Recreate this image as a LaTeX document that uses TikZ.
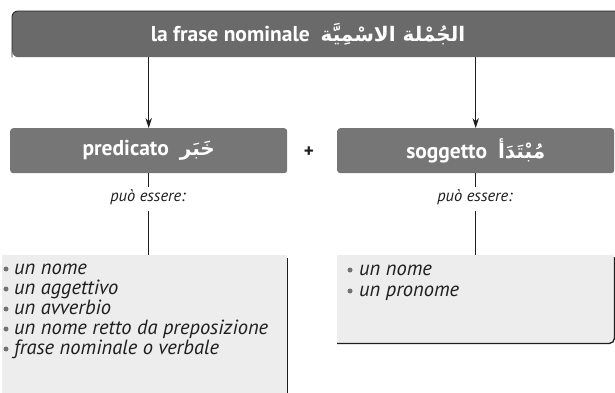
\documentclass[tikz,border=0pt]{standalone}
\usepackage{fontspec}
\setmainfont{PT Sans}
\newfontfamily\arabicfont[Script=Arabic]{DejaVu Sans}
\TeXXeTstate=1
\usetikzlibrary{arrows.meta}
\definecolor{bannergray}{HTML}{6A6A6A}
\definecolor{headgray}{HTML}{767676}
\definecolor{listgray}{HTML}{EDEDED}
\definecolor{inkgray}{HTML}{1E1E1E}
\begin{document}
\begin{tikzpicture}[x=1pt,y=-1pt,
  bannerbox/.style={fill=bannergray, rounded corners=6pt, inner sep=0pt},
  banneredge/.style={draw=black!85, line width=0.9pt, rounded corners=6pt},
  titletext/.style={text=white, font=\bfseries\fontsize{21.5}{24}\selectfont, inner sep=0pt},
  headbox/.style={fill=headgray, rounded corners=3pt, minimum width=277pt, minimum height=45pt, inner sep=0pt, text=white, font=\bfseries\fontsize{21.5}{24}\selectfont},
  listbox/.style={fill=listgray, inner sep=0pt},
  listborder/.style={draw=inkgray, line width=1.3pt},
  itemtext/.style={anchor=base west, inner sep=0pt, text=inkgray, font=\itshape\fontsize{20.5}{22}\selectfont},
  bulletdot/.style={circle, fill=black!55, minimum size=5pt, inner sep=0pt},
  conn/.style={draw=inkgray, line width=0.9pt},
  arrowconn/.style={conn, -{Stealth[length=10pt,width=6.5pt]}},
  labeltext/.style={inner sep=0pt, text=inkgray, font=\itshape\fontsize{16.5}{18}\selectfont}
]
\useasboundingbox (0,0) rectangle (615,393);

% banner
\node[bannerbox, anchor=north west, minimum width=640pt, minimum height=46pt] (banner) at (12,11) {};
\draw[banneredge] (banner.south west) -- (banner.north west) -- (banner.north east);
\node[titletext] (title) at (308,34) {la frase nominale\ \ {\arabicfont\fontsize{20}{22}\selectfont\beginR الجُمْلة الاسْمِيَّة\endR}};

% head boxes
\node[headbox, anchor=north west] (pred) at (10,128) {predicato\ \ {\arabicfont\fontsize{20}{22}\selectfont\beginR خَبَر\endR}};
\node[headbox, anchor=north west] (sogg) at (337,128) {soggetto\ \ {\arabicfont\fontsize{20}{22}\selectfont\beginR مُبْتَدَأ\endR}};
\node[inner sep=0pt, text=inkgray, font=\bfseries\fontsize{19}{20}\selectfont] (plus) at (309,152) {+};

\draw[arrowconn] (banner.south -| pred.north) -- (pred.north);
\draw[arrowconn] (banner.south -| sogg.north) -- (sogg.north);

% può essere
\node[labeltext] (pe1) at (148,197) {può essere:};
\node[labeltext] (pe2) at (475,197) {può essere:};

% list boxes
\node[listbox, anchor=north west, minimum width=285pt, minimum height=150pt] (list1) at (2,255) {};
\node[listbox, anchor=north west, minimum width=277pt, minimum height=88pt] (list2) at (337,255) {};
\draw[listborder] ([yshift=-3pt]list1.north east) -- (list1.south east);
\draw[listborder, rounded corners=5pt] ([yshift=-2pt]list2.north east) -- (list2.south east) -- (list2.south west);

\draw[conn] (pred.south) -- ([yshift=2pt]pe1.north -| pred.south);
\draw[conn] (sogg.south) -- ([yshift=2pt]pe2.north -| sogg.south);
\draw[conn] ([yshift=-6pt]pe1.south -| pred.south) -- (list1.north -| pred.south);
\draw[conn] ([yshift=-6pt]pe2.south -| sogg.south) -- (list2.north -| sogg.south);

% left items
\node[itemtext] (a1) at (14,274) {un nome};
\node[itemtext] (a2) at (14,294) {un aggettivo};
\node[itemtext] (a3) at (14,314) {un avverbio};
\node[itemtext] (a4) at (14,334) {un nome retto da preposizione};
\node[itemtext] (a5) at (14,354) {frase nominale o verbale};
\foreach \i/\y in {1/269,2/289,3/309,4/329,5/349}
  \node[bulletdot] (ba\i) at (6,\y) {};

% right items
\node[itemtext] (b1) at (359,275) {un nome};
\node[itemtext] (b2) at (359,296) {un pronome};
\foreach \i/\y in {1/270,2/291}
  \node[bulletdot] (bb\i) at (350,\y) {};
\end{tikzpicture}
\end{document}
